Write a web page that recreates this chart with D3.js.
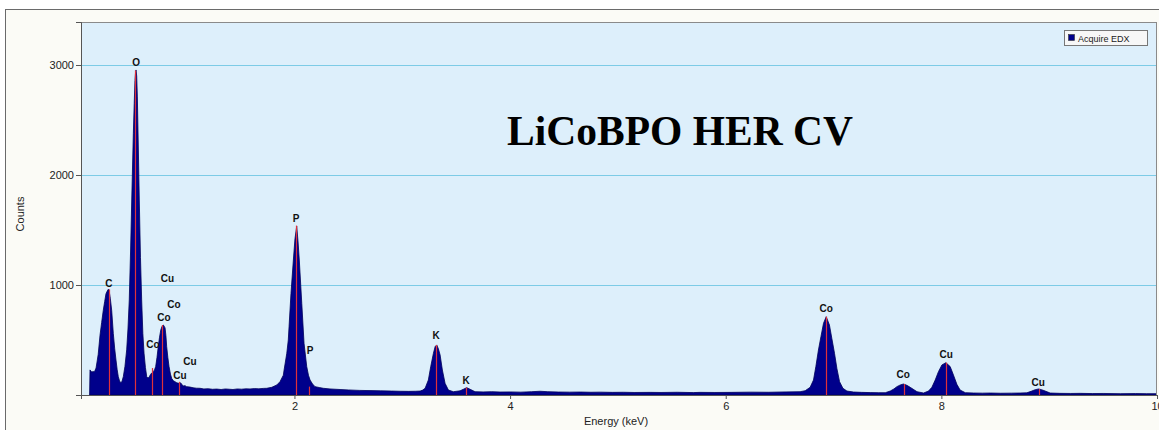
<!DOCTYPE html>
<html>
<head>
<meta charset="utf-8">
<script src="https://cdn.jsdelivr.net/npm/d3@7/dist/d3.min.js"></script>
<style>
  html, body { margin: 0; padding: 0; background: #ffffff; }
  svg { display: block; }
</style>
</head>
<body>
<svg id="chart" width="1159" height="430"></svg>
<script>
// EDX spectrum: energy (keV) and counts sampled along the trace
const energy = [
  0.100, 0.104, 0.113, 0.122, 0.132, 0.141, 0.150, 0.160, 0.169, 0.180,
  0.197, 0.212, 0.227, 0.240, 0.252, 0.264, 0.274, 0.280, 0.292, 0.305,
  0.320, 0.333, 0.345, 0.356, 0.366, 0.378, 0.389, 0.401, 0.413, 0.428,
  0.444, 0.456, 0.468, 0.480, 0.491, 0.499, 0.506, 0.514, 0.521, 0.527,
  0.531, 0.537, 0.543, 0.551, 0.561, 0.572, 0.583, 0.594, 0.605, 0.618,
  0.630, 0.641, 0.651, 0.664, 0.676, 0.691, 0.702, 0.713, 0.725, 0.737,
  0.748, 0.760, 0.772, 0.784, 0.792, 0.800, 0.808, 0.815, 0.826, 0.837,
  0.850, 0.862, 0.877, 0.892, 0.908, 0.923, 0.935, 0.945, 0.957, 0.969,
  0.985, 1.000, 1.032, 1.060, 1.090, 1.124, 1.160, 1.200, 1.240, 1.279,
  1.320, 1.360, 1.400, 1.430, 1.470, 1.510, 1.550, 1.588, 1.630, 1.670,
  1.710, 1.743, 1.790, 1.836, 1.866, 1.897, 1.904, 1.929, 1.943, 1.950,
  1.968, 1.990, 2.005, 2.021, 2.033, 2.045, 2.068, 2.089, 2.114, 2.130,
  2.145, 2.168, 2.191, 2.230, 2.268, 2.330, 2.423, 2.500, 2.600, 2.701,
  2.800, 2.900, 2.980, 3.060, 3.120, 3.166, 3.190, 3.212, 3.242, 3.264,
  3.289, 3.305, 3.320, 3.335, 3.351, 3.372, 3.397, 3.428, 3.474, 3.536,
  3.567, 3.598, 3.629, 3.675, 3.750, 3.830, 3.907, 4.000, 4.100, 4.200,
  4.278, 4.350, 4.450, 4.550, 4.650, 4.750, 4.835, 4.950, 5.050, 5.150,
  5.299, 5.400, 5.550, 5.700, 5.762, 5.900, 6.050, 6.226, 6.400, 6.550,
  6.690, 6.737, 6.783, 6.814, 6.836, 6.860, 6.883, 6.907, 6.932, 6.962,
  6.984, 7.009, 7.031, 7.056, 7.087, 7.124, 7.185, 7.260, 7.340, 7.420,
  7.480, 7.526, 7.560, 7.588, 7.620, 7.649, 7.680, 7.711, 7.774, 7.835,
  7.881, 7.912, 7.943, 7.973, 8.005, 8.042, 8.082, 8.112, 8.144, 8.174,
  8.222, 8.300, 8.380, 8.454, 8.550, 8.650, 8.730, 8.793, 8.839, 8.870,
  8.901, 8.930, 8.963, 9.009, 9.100, 9.200, 9.288, 9.400, 9.500, 9.659,
  9.800, 9.900, 10.000
];
const counts = [
  0, 228, 215, 208, 214, 210, 222, 245, 300, 370,
  545, 660, 770, 850, 920, 945, 962, 955, 880, 770,
  560, 420, 318, 230, 168, 128, 112, 125, 168, 260,
  410, 600, 864, 1300, 1773, 2100, 2380, 2650, 2860, 2940,
  2955, 2900, 2710, 2300, 1773, 1250, 864, 560, 380, 250,
  167, 155, 160, 185, 200, 212, 228, 258, 340, 440,
  520, 590, 625, 636, 625, 610, 540, 440, 340, 258,
  190, 150, 130, 121, 112, 106, 112, 110, 95, 82,
  85, 76, 72, 66, 62, 61, 55, 57, 52, 54,
  50, 55, 52, 50, 55, 53, 56, 55, 58, 56,
  60, 61, 70, 91, 121, 180, 227, 379, 500, 621,
  924, 1227, 1420, 1535, 1400, 1227, 833, 470, 258, 180,
  136, 100, 76, 68, 61, 55, 50, 46, 42, 40,
  38, 36, 34, 33, 34, 36, 45, 61, 136, 258,
  379, 440, 455, 420, 364, 227, 106, 45, 30, 38,
  52, 67, 52, 30, 28, 30, 27, 28, 26, 30,
  34, 30, 27, 26, 27, 25, 26, 24, 25, 23,
  24, 23, 25, 22, 24, 23, 24, 26, 25, 28,
  30, 39, 70, 136, 258, 409, 530, 652, 712, 636,
  515, 379, 242, 121, 61, 36, 27, 24, 22, 21,
  21, 36, 55, 76, 92, 100, 88, 70, 30, 18,
  36, 70, 136, 212, 273, 294, 258, 182, 97, 45,
  21, 18, 17, 18, 16, 17, 18, 20, 36, 48,
  55, 48, 36, 18, 15, 14, 15, 13, 14, 12,
  13, 12, 12
];

// Identified element lines: energy (keV) and marker height (counts)
const lineEnergy = [0.277, 0.525, 0.678, 0.776, 0.930, 2.013, 2.139, 3.312, 3.589, 6.930, 7.649, 8.040, 8.904];
const lineHeight = [960, 2950, 245, 636, 120, 1540, 76, 455, 67, 712, 100, 294, 55];

// Element labels: text, energy (keV), count level of the label centre
const labelText   = ["C", "O", "Cu", "Co", "Co", "Co", "Cu", "Cu", "P", "P", "K", "K", "Co", "Co", "Cu", "Cu"];
const labelEnergy = [0.280, 0.531, 0.823, 0.883, 0.790, 0.688, 1.031, 0.939, 2.015, 2.145, 3.313, 3.592, 6.932, 7.646, 8.045, 8.898];
const labelCount  = [1018, 3027, 1055, 827, 709, 455, 309, 173, 1609, 409, 545, 136, 782, 182, 364, 118];

const yTicks = [1000, 2000, 3000];
const xTicks = [2, 4, 6, 8, 10];

const svg = d3.select("#chart");
const W = 1159, H = 430;
const plot = { left: 81, right: 1157, top: 22, bottom: 395 };

// Outer panel
svg.append("rect").attr("x", 0).attr("y", 0).attr("width", W).attr("height", H).attr("fill", "#ffffff");
svg.append("rect").attr("x", 5.5).attr("y", 9.5).attr("width", W + 10).attr("height", H + 10)
  .attr("fill", "#fbfbf6").attr("stroke", "#6a6a6a").attr("stroke-width", 1);

const x = d3.scaleLinear().domain([0.0204, 10]).range([plot.left, plot.right]);
const y = d3.scaleLinear().domain([0, 3391]).range([plot.bottom, plot.top]);

// Plot background
svg.append("rect")
  .attr("x", plot.left).attr("y", plot.top)
  .attr("width", plot.right - plot.left).attr("height", plot.bottom - plot.top)
  .attr("fill", "#ddeffb");

// Horizontal grid
svg.append("g").selectAll("line").data(yTicks).join("line")
  .attr("x1", plot.left).attr("x2", plot.right)
  .attr("y1", d => Math.round(y(d)) + 0.5).attr("y2", d => Math.round(y(d)) + 0.5)
  .attr("stroke", "#7ccbe6").attr("stroke-width", 1);

svg.append("defs").append("clipPath").attr("id", "plotClip")
  .append("rect").attr("x", plot.left).attr("y", plot.top)
  .attr("width", plot.right - plot.left).attr("height", plot.bottom - plot.top);

const pts = energy.map((e, i) => [e, counts[i]]);
const area = d3.area()
  .x(d => x(d[0]))
  .y0(y(0))
  .y1(d => y(d[1]));

const g = svg.append("g").attr("clip-path", "url(#plotClip)");
g.append("path").datum(pts)
  .attr("d", area)
  .attr("fill", "#00008b")
  .attr("stroke", "#00005a")
  .attr("stroke-width", 0.8)
  .attr("stroke-linejoin", "round");

// Element marker lines
g.selectAll("line.marker").data(lineEnergy).join("line")
  .attr("class", "marker")
  .attr("x1", d => Math.round(x(d)) + 0.5).attr("x2", d => Math.round(x(d)) + 0.5)
  .attr("y1", y(0)).attr("y2", (d, i) => y(lineHeight[i]))
  .attr("stroke", "#e0303a").attr("stroke-width", 1.2);

// Element labels
svg.append("g").selectAll("text").data(labelText).join("text")
  .attr("x", (d, i) => x(labelEnergy[i]))
  .attr("y", (d, i) => y(labelCount[i]))
  .attr("text-anchor", "middle")
  .attr("dominant-baseline", "central")
  .attr("font-family", "'Liberation Sans', Arial, sans-serif")
  .attr("font-weight", "bold")
  .attr("font-size", 10)
  .attr("fill", "#111")
  .text(d => d);

// Plot frame
svg.append("rect")
  .attr("x", plot.left + 0.5).attr("y", plot.top + 0.5)
  .attr("width", plot.right - plot.left - 1).attr("height", plot.bottom - plot.top)
  .attr("fill", "none").attr("stroke", "#8a8a8a").attr("stroke-width", 1);

// Axes
const yAxis = d3.axisLeft(y).tickValues(yTicks).tickSize(5).tickPadding(2).tickFormat(d3.format("d"));
const yg = svg.append("g").attr("transform", `translate(${plot.left},0)`).call(yAxis);
yg.select(".domain").attr("stroke", "#555");
yg.selectAll(".tick line").attr("stroke", "#555");
yg.selectAll(".tick text").attr("font-family", "'Liberation Sans', Arial, sans-serif")
  .attr("font-size", 11).attr("fill", "#222");

const xAxis = d3.axisBottom(x).tickValues(xTicks).tickSize(4).tickPadding(3).tickFormat(d3.format("d"));
const xg = svg.append("g").attr("transform", `translate(0,${plot.bottom})`).call(xAxis);
xg.select(".domain").attr("stroke", "#555");
xg.selectAll(".tick line").attr("stroke", "#555");
xg.selectAll(".tick text").attr("font-family", "'Liberation Sans', Arial, sans-serif")
  .attr("font-size", 11).attr("fill", "#222");

// Axis titles
svg.append("text")
  .attr("transform", "translate(20,214) rotate(-90)")
  .attr("text-anchor", "middle").attr("dominant-baseline", "central")
  .attr("font-family", "'Liberation Sans', Arial, sans-serif")
  .attr("font-size", 11).attr("fill", "#222")
  .text("Counts");
svg.append("text")
  .attr("x", 616).attr("y", 421)
  .attr("text-anchor", "middle").attr("dominant-baseline", "central")
  .attr("font-family", "'Liberation Sans', Arial, sans-serif")
  .attr("font-size", 11).attr("fill", "#222")
  .text("Energy (keV)");

// Title
svg.append("text")
  .attr("x", 680).attr("y", 145)
  .attr("text-anchor", "middle")
  .attr("font-family", "'Liberation Serif', 'Times New Roman', serif")
  .attr("font-weight", "bold")
  .attr("font-size", 41.5)
  .attr("fill", "#000")
  .text("LiCoBPO HER CV");

// Legend
const lg = svg.append("g").attr("transform", "translate(1064,30)");
lg.append("rect").attr("x", 0.5).attr("y", 0.5).attr("width", 83).attr("height", 15)
  .attr("fill", "#f7f7f7").attr("stroke", "#777").attr("stroke-width", 1);
lg.append("rect").attr("x", 4.5).attr("y", 4.5).attr("width", 6).attr("height", 6)
  .attr("fill", "#00008b").attr("stroke", "#333").attr("stroke-width", 0.6);
lg.append("text").attr("x", 14).attr("y", 8.5)
  .attr("dominant-baseline", "central")
  .attr("font-family", "'Liberation Sans', Arial, sans-serif")
  .attr("font-size", 9).attr("fill", "#222")
  .text("Acquire EDX");
</script>
</body>
</html>
